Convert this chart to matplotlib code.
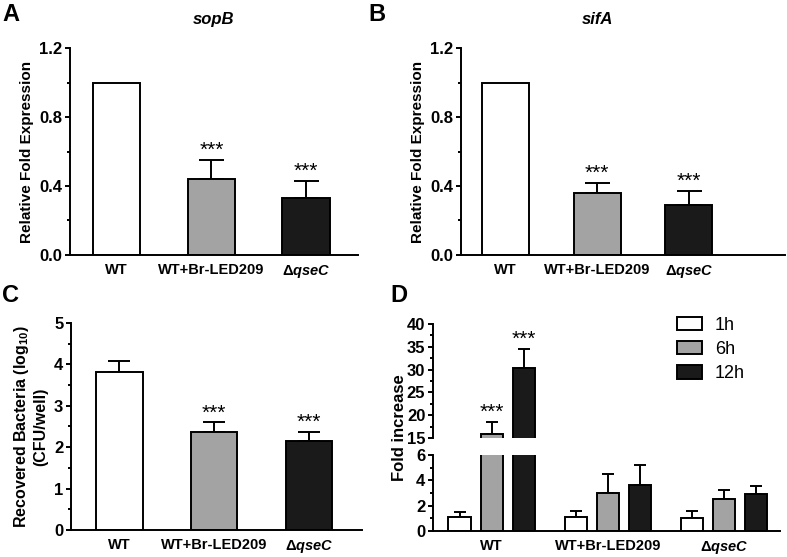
import matplotlib
matplotlib.use('Agg')
import matplotlib.pyplot as plt
from matplotlib.ticker import MultipleLocator, FormatStrFormatter
from matplotlib.patches import Patch

plt.rcParams['font.family'] = ['Liberation Sans', 'DejaVu Sans']
plt.rcParams['mathtext.fontset'] = 'custom'
plt.rcParams['mathtext.rm'] = 'Liberation Sans:bold'
plt.rcParams['mathtext.it'] = 'Liberation Sans:bold:italic'

groups = ['WT', 'WT+Br-LED209', r'$\Delta\it{qseC}$']
colors = ['white', '#a3a3a3', '#1a1a1a']

# panel A - sopB
sopb_mean = [1.0, 0.44, 0.33]
sopb_err = [0.0, 0.11, 0.10]
# panel B - sifA
sifa_mean = [1.0, 0.36, 0.29]
sifa_err = [0.0, 0.056, 0.08]
# panel C - recovered bacteria
cfu_mean = [3.82, 2.36, 2.16]
cfu_err = [0.26, 0.24, 0.20]
# panel D - fold increase per time point
times = ['1h', '6h', '12h']
fold_mean = {'1h': [1.13, 1.08, 1.05],
             '6h': [15.9, 3.02, 2.53],
             '12h': [30.4, 3.63, 2.92]}
fold_err = {'1h': [0.37, 0.52, 0.53],
            '6h': [2.7, 1.48, 0.71],
            '12h': [4.1, 1.60, 0.63]}

LW = 1.4
TICK_FS = 12
XLAB_FS = 10.5

fig = plt.figure(figsize=(7.87, 5.57), dpi=100)


def style_axis(ax):
    for s in ['top', 'right']:
        ax.spines[s].set_visible(False)
    for s in ['left', 'bottom']:
        ax.spines[s].set_linewidth(LW)
    ax.tick_params(which='major', length=3.5, width=LW, labelsize=TICK_FS, pad=2)
    ax.tick_params(which='minor', length=2.2, width=LW)
    ax.tick_params(axis='x', length=0, pad=6, labelsize=XLAB_FS)
    for lab in ax.get_yticklabels():
        lab.set_fontweight('bold')


def stars(ax, x, y):
    ax.text(x, y, '***', ha='center', va='bottom', fontsize=15)


def simple_panel(rect, mean, err, width, xlim, ylim, major, minor, cap):
    ax = fig.add_axes(rect)
    x = list(range(len(mean)))
    ax.bar(x, mean, width, color=colors, edgecolor='black', linewidth=LW, zorder=2)
    for i in x:
        if err[i] > 0:
            ax.errorbar(x[i], mean[i], yerr=[[0], [err[i]]], fmt='none',
                        ecolor='black', elinewidth=LW, capsize=cap,
                        capthick=LW, zorder=1)
    ax.set_xlim(*xlim)
    ax.set_ylim(*ylim)
    ax.yaxis.set_major_locator(MultipleLocator(major))
    ax.yaxis.set_minor_locator(MultipleLocator(minor))
    ax.set_xticks(x)
    ax.set_xticklabels(groups, fontweight='bold')
    style_axis(ax)
    for i in x[1:]:
        stars(ax, i, mean[i] + err[i])
    return ax


# A
axA = simple_panel([0.0889, 0.5422, 0.366, 0.3716], sopb_mean, sopb_err, 0.5,
                   (-0.495, 2.55), (0, 1.2), 0.4, 0.2, 9)
axA.yaxis.set_major_formatter(FormatStrFormatter('%.1f'))
axA.set_ylabel('Relative Fold Expression', fontsize=11, fontweight='bold')
axA.set_title('sopB', fontsize=12, fontweight='bold', style='italic', pad=17)

# B
axB = simple_panel([0.5858, 0.5422, 0.4117, 0.3716], sifa_mean, sifa_err, 0.51,
                   (-0.486, 3.05), (0, 1.2), 0.4, 0.2, 9)
axB.yaxis.set_major_formatter(FormatStrFormatter('%.1f'))
axB.set_ylabel('Relative Fold Expression', fontsize=11, fontweight='bold')
axB.set_title('sifA', fontsize=12, fontweight='bold', style='italic', pad=17,
              x=0.42)

# C
axC = simple_panel([0.0902, 0.0485, 0.37, 0.3716], cfu_mean, cfu_err, 0.49,
                   (-0.51, 2.56), (0, 5), 1, 0.5, 8)
axC.set_ylabel('Recovered Bacteria (log$_{10}$)\n(CFU/well)',
               fontsize=11.5, fontweight='bold')

# D - broken y axis
axDt = fig.add_axes([0.5502, 0.2136, 0.441, 0.2047])
axDb = fig.add_axes([0.5502, 0.0467, 0.441, 0.1364])
offsets = [-0.276, 0.0, 0.276]
bw = 0.19
for ax in (axDt, axDb):
    for k, t in enumerate(times):
        xs = [g + offsets[k] for g in range(3)]
        ax.bar(xs, fold_mean[t], bw, color=colors[k], edgecolor='black',
               linewidth=LW, zorder=2)
        ax.errorbar(xs, fold_mean[t], yerr=[[0] * 3, fold_err[t]], fmt='none',
                    ecolor='black', elinewidth=LW, capsize=4.5, capthick=LW,
                    zorder=1)
    ax.set_xlim(-0.504, 2.48)

axDt.set_ylim(15, 40)
axDt.yaxis.set_major_locator(MultipleLocator(5))
axDt.yaxis.set_minor_locator(MultipleLocator(2.5))
style_axis(axDt)
axDt.spines['bottom'].set_visible(False)
axDt.set_xticks([])
stars(axDt, 0 + offsets[1], fold_mean['6h'][0] + fold_err['6h'][0])
stars(axDt, 0 + offsets[2], fold_mean['12h'][0] + fold_err['12h'][0])

axDb.set_ylim(0, 6)
axDb.yaxis.set_major_locator(MultipleLocator(2))
axDb.yaxis.set_minor_locator(MultipleLocator(1))
axDb.set_xticks(range(3))
axDb.set_xticklabels(groups, fontweight='bold')
style_axis(axDb)

handles = [Patch(facecolor=colors[k], edgecolor='black', linewidth=LW)
           for k in range(3)]
axDt.legend(handles, times, loc='upper left', bbox_to_anchor=(0.860, 0.431),
            bbox_transform=fig.transFigure, frameon=False, fontsize=13,
            handlelength=1.4, handleheight=0.75, handletextpad=0.7,
            labelspacing=0.4, borderaxespad=0, borderpad=0)

fig.text(0.507, 0.233, 'Fold increase', rotation=90, ha='center', va='center',
         fontsize=12, fontweight='bold')

# panel letters
for lab, x, y in [('A', 0.003, 0.995), ('B', 0.468, 0.995),
                  ('C', 0.003, 0.49), ('D', 0.496, 0.49)]:
    fig.text(x, y, lab, fontsize=17, fontweight='bold', ha='left', va='top')

fig.savefig('out.png', dpi=100)
